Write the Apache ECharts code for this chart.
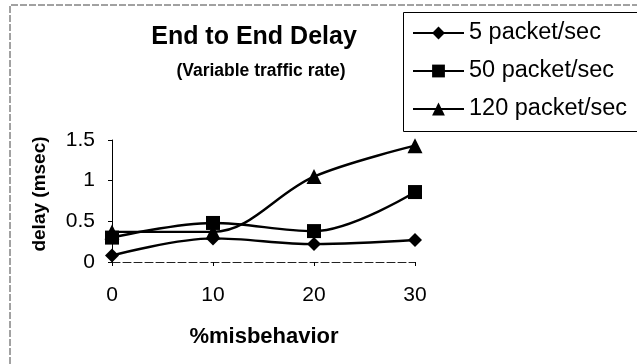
<!DOCTYPE html>
<html><head><meta charset="utf-8">
<script src="https://cdn.jsdelivr.net/npm/echarts@6/dist/echarts.min.js"></script>
<style>html,body{margin:0;padding:0;background:#fff}#c{width:637px;height:364px}</style>
</head><body><div id="c"></div>
<script>
const xValues = [0, 10, 20, 30];
const seriesNames = ['5 packet/sec', '50 packet/sec', '120 packet/sec'];
const s5 = [0.08, 0.29, 0.22, 0.27];
const s50 = [0.30, 0.48, 0.38, 0.86];
const s120 = [0.37, 0.37, 1.05, 1.43];
const titleText = 'End to End Delay';
const subtitleText = '(Variable traffic rate)';
const xAxisName = '%misbehavior';
const yAxisName = 'delay (msec)';
const symbols = ['diamond', 'rect', 'triangle'];
const values = [s5, s50, s120];

const chart = echarts.init(document.getElementById('c'));
const F = 'Liberation Sans, Arial, sans-serif';
chart.setOption({
  animation: false,
  backgroundColor: '#fff',
  legend: {
    orient: 'vertical', left: 403, top: 12,
    borderWidth: 0,
    padding: [9, 9, 9, 9], itemGap: 14,
    itemWidth: 51, itemHeight: 16,
    textStyle: {fontFamily: F, fontSize: 23.5, lineHeight: 24, color: '#000'},
    data: seriesNames
  },
  grid: {left: 112, right: 222, top: 140, bottom: 102},
  xAxis: {
    type: 'value', min: 0, max: 30, interval: 10,
    axisLine: {lineStyle: {color: '#222', width: 1, type: [8, 3]}},
    axisTick: {show: true, length: 4, lineStyle: {color: '#000'}},
    axisLabel: {fontFamily: F, fontSize: 21, color: '#000', margin: 23},
    splitLine: {show: false}
  },
  yAxis: {
    type: 'value', min: 0, max: 1.5, interval: 0.5,
    axisLine: {show: true, lineStyle: {color: '#000', width: 1}},
    axisTick: {show: true, length: 4, lineStyle: {color: '#000'}},
    axisLabel: {fontFamily: F, fontSize: 21, color: '#000', margin: 17},
    splitLine: {show: false}
  },
  graphic: [
    {type: 'polyline', shape: {points: [[10, 364], [10, 5], [637, 5]]},
     style: {stroke: '#444', lineWidth: 1, lineDash: [7, 2], fill: null}},
    {type: 'rect', shape: {x: 403.5, y: 12.5, width: 300, height: 119},
     style: {stroke: '#000', lineWidth: 1, fill: null}},
    {type: 'text', x: 254, y: 37,
     style: {text: titleText, fontFamily: F, fontSize: 25, fontWeight: 'bold', fill: '#000',
             align: 'center', verticalAlign: 'middle'}},
    {type: 'text', x: 261, y: 71,
     style: {text: subtitleText, fontFamily: F, fontSize: 17.5, fontWeight: 'bold', fill: '#000',
             align: 'center', verticalAlign: 'middle'}},
    {type: 'text', x: 264, y: 337,
     style: {text: xAxisName, fontFamily: F, fontSize: 22, fontWeight: 'bold', fill: '#000',
             align: 'center', verticalAlign: 'middle'}},
    {type: 'text', x: 40, y: 194, rotation: Math.PI / 2,
     style: {text: yAxisName, fontFamily: F, fontSize: 19, fontWeight: 'bold', fill: '#000',
             align: 'center', verticalAlign: 'middle'}}
  ],
  series: seriesNames.map((n, i) => ({
    name: n, type: 'line', smooth: 0.35,
    data: xValues.map((x, j) => [x, values[i][j]]),
    symbol: symbols[i], symbolSize: i === 2 ? 15 : 14,
    lineStyle: {color: '#000', width: 2.4},
    itemStyle: {color: '#000'},
    z: 3 - i
  }))
});
</script></body></html>
